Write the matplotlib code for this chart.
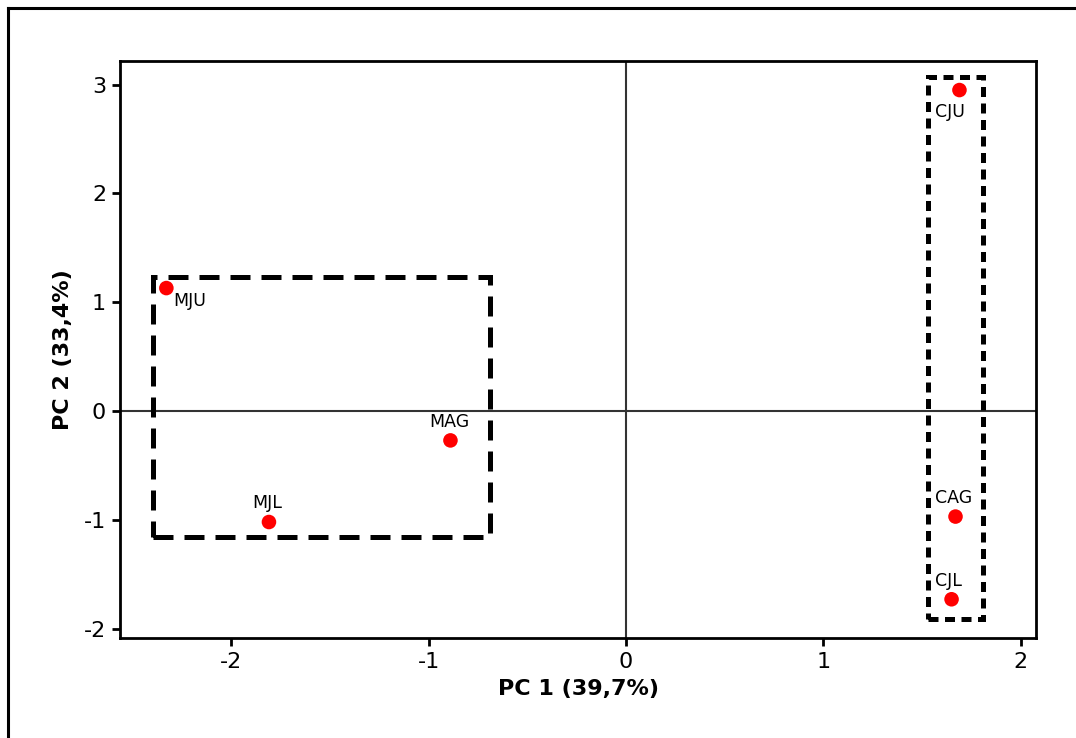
import numpy as np
import matplotlib
matplotlib.use('Agg')
import matplotlib.pyplot as plt
from matplotlib.patches import Rectangle
from matplotlib.lines import Line2D

# scores (PC1, PC2)
labels = ["MJU", "MAG", "MJL", "CJU", "CAG", "CJL"]
pc1 = [-2.33, -0.89, -1.81, 1.69, 1.67, 1.65]
pc2 = [1.13, -0.27, -1.02, 2.95, -0.97, -1.73]

# group boxes (x0, y0, x1, y1)
box_m = [-2.40, -1.16, -0.69, 1.23]
box_c = [1.53, -1.91, 1.81, 3.07]

plt.rcParams['font.family'] = ['DejaVu Sans']
plt.rcParams['axes.unicode_minus'] = False

fig = plt.figure(figsize=(10.76, 7.38), dpi=100)
ax = fig.add_axes([120/1076, 1 - 638/738, (1036-120)/1076, (638-61)/738])

# outer frame (cropped)
fig.add_artist(Line2D([8/1076, 8/1076], [0, 1 - 8/738], color='black', lw=2.2,
                      transform=fig.transFigure))
fig.add_artist(Line2D([8/1076, 1], [1 - 8/738, 1 - 8/738], color='black', lw=2.2,
                      transform=fig.transFigure))

ax.set_xlim(-2.565, 2.078)
ax.set_ylim(-2.086, 3.217)

ax.axhline(0, color='#333333', lw=1.5, zorder=1)
ax.axvline(0, color='#333333', lw=1.5, zorder=1)

ax.add_patch(Rectangle((box_m[0], box_m[1]), box_m[2]-box_m[0], box_m[3]-box_m[1],
                       fill=False, ec='black', lw=3.6, ls=(0, (4.0, 2.2)), zorder=2))
ax.add_patch(Rectangle((box_c[0], box_c[1]), box_c[2]-box_c[0], box_c[3]-box_c[1],
                       fill=False, ec='black', lw=3.6, ls=(0, (2.0, 1.3)), zorder=2))

ax.scatter(pc1, pc2, s=110, color='red', zorder=3, edgecolors='none')

# label offsets in points
offs = {"MJU": (5, -16, 'left'), "MAG": (-1, 7, 'center'), "MJL": (-1, 7, 'center'),
        "CJU": (-7, -22, 'center'), "CAG": (-1, 7, 'center'), "CJL": (-2, 7, 'center')}
for lab, x, y in zip(labels, pc1, pc2):
    dx, dy, ha = offs[lab]
    ax.annotate(lab, (x, y), xytext=(dx, dy), textcoords='offset points',
                ha=ha, va='bottom', fontsize=12.5)

ax.set_xticks([-2, -1, 0, 1, 2])
ax.set_yticks([-2, -1, 0, 1, 2, 3])
ax.tick_params(direction='out', length=6, width=2, labelsize=16, pad=4)
for s in ax.spines.values():
    s.set_linewidth(2)

ax.set_xlabel("PC 1 (39,7%)", fontsize=16, fontweight='bold', labelpad=5)
ax.set_ylabel("PC 2 (33,4%)", fontsize=16, fontweight='bold', labelpad=8)

fig.savefig("out.png", dpi=100)
